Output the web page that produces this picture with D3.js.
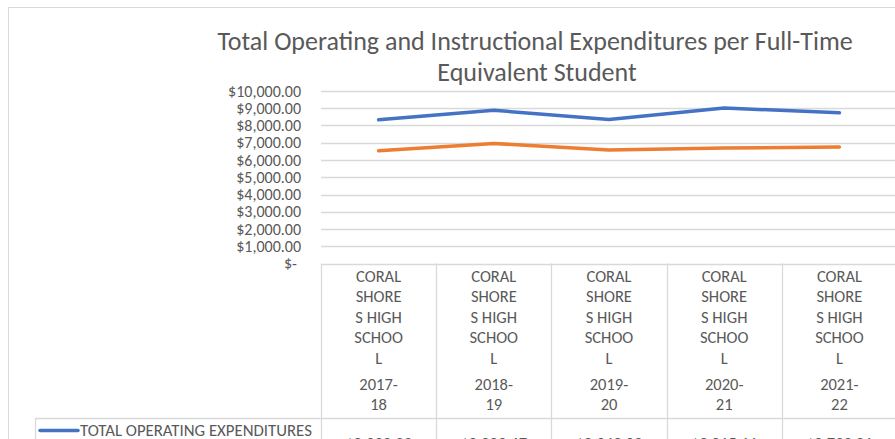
<!DOCTYPE html>
<html>
<head>
<meta charset="utf-8">
<script src="https://cdn.jsdelivr.net/npm/d3@7"></script>
<style>
  body { margin: 0; background: #fff; }
  svg { display: block; font-family: Carlito, Calibri, Lato, sans-serif; }
</style>
</head>
<body>
<svg width="895" height="439"></svg>
<script>
// data
var school = "CORAL SHORES HIGH SCHOOL";
var years = ["2017-18", "2018-19", "2019-20", "2020-21", "2021-22"];
var seriesNames = ["TOTAL OPERATING EXPENDITURES", "INSTRUCTIONAL EXPENDITURES"];
var totalOperating = [8333.33, 8883.67, 8349.03, 9015.11, 8733.81];
var instructional = [6535, 6960, 6575, 6690, 6750];
var yTicks = [0, 1000, 2000, 3000, 4000, 5000, 6000, 7000, 8000, 9000, 10000];

var svg = d3.select("svg");
var textColor = "#595959";
var gridColor = "#d9d9d9";
var fontFam = "Carlito, Calibri, Lato, sans-serif";
var colors = ["#4472C4", "#ED7D31"];
var series = [totalOperating, instructional];

var plot = { left: 321, top: 91, bottom: 263.5, cellW: 115.2 };

// outer chart border
svg.append("rect")
    .attr("x", 8.5).attr("y", 7.5)
    .attr("width", 900).attr("height", 460)
    .attr("fill", "none").attr("stroke", gridColor);

// title
var title = svg.append("text")
    .attr("text-anchor", "middle")
    .style("font-size", "26px")
    .style("fill", textColor);
title.append("tspan").attr("x", 535).attr("y", 50).text("Total Operating and Instructional Expenditures per Full-Time");
title.append("tspan").attr("x", 537).attr("y", 81).text("Equivalent Student");

// scales
var xScale = d3.scaleBand()
    .domain(years)
    .range([plot.left, plot.left + plot.cellW * years.length]);

var yScale = d3.scaleLinear()
    .domain([0, 10000])
    .range([plot.bottom, plot.top]);

// gridlines
svg.append("g")
    .selectAll("line")
    .data(yTicks)
    .join("line")
    .attr("x1", plot.left).attr("x2", 900)
    .attr("y1", function (d) { return Math.round(yScale(d)) + 0.5; })
    .attr("y2", function (d) { return Math.round(yScale(d)) + 0.5; })
    .attr("stroke", gridColor)
    .attr("stroke-width", 1.3);

// y axis labels
var fmt = d3.format("$,.2f");
var yAxis = d3.axisLeft(yScale)
    .tickValues(yTicks)
    .tickSize(0)
    .tickPadding(0)
    .tickFormat(function (d) { return d === 0 ? "$-" : fmt(d); });

var yG = svg.append("g")
    .attr("transform", "translate(301,0)")
    .call(yAxis)
    .attr("font-family", fontFam);
yG.select(".domain").remove();
yG.selectAll("text")
    .style("font-size", "16px")
    .style("fill", textColor)
    .attr("x", function (d) { return d === 0 ? -4 : 0; })
    .attr("dy", "0.32em");

// lines
var line = d3.line()
    .x(function (d, i) { return xScale(years[i]) + xScale.bandwidth() / 2; })
    .y(function (d) { return yScale(d); });

svg.append("g")
    .selectAll("path")
    .data(series)
    .join("path")
    .attr("d", line)
    .attr("fill", "none")
    .attr("stroke", function (d, i) { return colors[i]; })
    .attr("stroke-width", 3.5)
    .attr("stroke-linecap", "round")
    .attr("stroke-linejoin", "round");

// data table
var table = svg.append("g");
var headerTop = plot.bottom;
var rowTop = 418;
var rowH = 27;

// split a label the way the narrow cells wrap it
function wrapWords(str) {
    var out = [];
    var cur = "";
    str.split(" ").forEach(function (w) {
        var pieces = [];
        while (w.length > 5) { pieces.push(w.slice(0, 5)); w = w.slice(5); }
        pieces.push(w);
        pieces.forEach(function (p, k) {
            if (k < pieces.length - 1) {
                if (cur) { out.push(cur); cur = ""; }
                out.push(p);
            } else if (cur && (cur + " " + p).length <= 6) {
                cur = cur + " " + p;
            } else {
                if (cur) out.push(cur);
                cur = p;
            }
        });
    });
    if (cur) out.push(cur);
    return out;
}

// vertical cell borders
var borders = d3.range(years.length + 1).map(function (i) { return plot.left + i * plot.cellW; });
table.selectAll("line.v")
    .data(borders)
    .join("line")
    .attr("class", "v")
    .attr("x1", function (d) { return Math.round(d) + 0.5; })
    .attr("x2", function (d) { return Math.round(d) + 0.5; })
    .attr("y1", headerTop).attr("y2", 500)
    .attr("stroke", gridColor).attr("stroke-width", 1.3);

// row borders
[rowTop, rowTop + rowH, rowTop + rowH * 2].forEach(function (y) {
    table.append("line")
        .attr("x1", 35).attr("x2", 900)
        .attr("y1", y + 0.5).attr("y2", y + 0.5)
        .attr("stroke", gridColor).attr("stroke-width", 1.3);
});
table.append("line")
    .attr("x1", 35.5).attr("x2", 35.5)
    .attr("y1", rowTop).attr("y2", 500)
    .attr("stroke", gridColor).attr("stroke-width", 1.3);

// header labels
var schoolLines = wrapWords(school);
years.forEach(function (yr) {
    var cx = xScale(yr) + xScale.bandwidth() / 2;
    var t = table.append("text")
        .attr("text-anchor", "middle")
        .style("font-size", "16.5px")
        .style("fill", textColor);
    schoolLines.forEach(function (s, k) {
        t.append("tspan").attr("x", cx).attr("y", 281.5 + k * 20.5).text(s);
    });
    var yParts = [yr.slice(0, 5), yr.slice(5)];
    yParts.forEach(function (s, k) {
        t.append("tspan").attr("x", cx).attr("y", 389.5 + k * 20.5).text(s);
    });
});

// table rows: legend key + values
var money = d3.format("$,.2f");
series.forEach(function (vals, si) {
    var ry = rowTop + si * rowH;
    table.append("line")
        .attr("x1", 40).attr("x2", 78)
        .attr("y1", ry + 12.5).attr("y2", ry + 12.5)
        .attr("stroke", colors[si]).attr("stroke-width", 3.5)
        .attr("stroke-linecap", "round");
    table.append("text")
        .attr("x", 80).attr("y", ry + 18)
        .style("font-size", "16.8px")
        .style("fill", textColor)
        .text(seriesNames[si]);
    vals.forEach(function (v, i) {
        table.append("text")
            .attr("x", xScale(years[i]) + xScale.bandwidth() / 2)
            .attr("y", ry + 31)
            .attr("text-anchor", "middle")
            .style("font-size", "16.5px")
            .style("fill", textColor)
            .text(money(v));
    });
});
</script>
</body>
</html>
